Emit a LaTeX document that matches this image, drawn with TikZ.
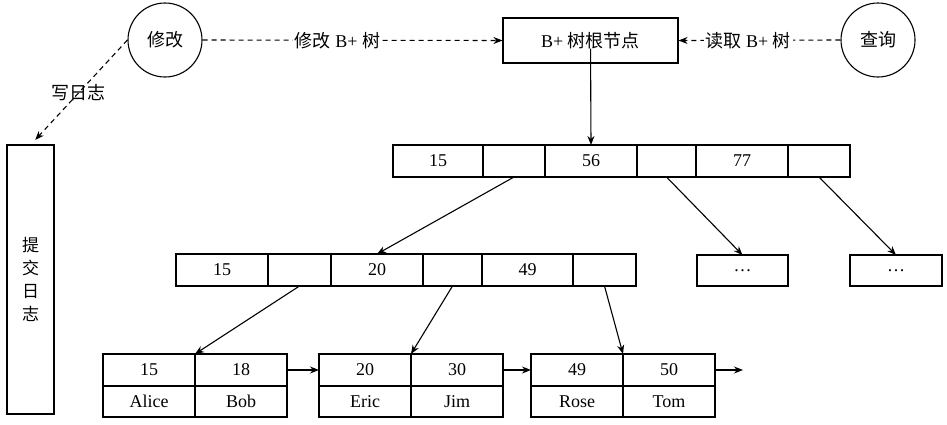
\documentclass[tikz,border=0pt]{standalone}
\usepackage{fontspec}
\setmainfont{Liberation Serif}
\newfontfamily\zhfont{Noto Sans CJK SC}
\newcommand\cjktext[1]{{\zhfont #1}}
\usetikzlibrary{arrows.meta}
\begin{document}
\begin{tikzpicture}[x=1pt, y=-1pt, line width=1.1pt, font=\fontsize{18}{21}\selectfont,
  cell/.style={draw, anchor=north west, minimum height=32pt, inner sep=0pt, outer sep=0pt},
  ring/.style={draw, circle, minimum size=74pt, inner sep=0pt},
  arr/.style={-{Stealth[length=9pt, width=7pt]}},
  dasharr/.style={arr, dash pattern=on 5pt off 4pt},
  tag/.style={fill=white, inner sep=2pt}]
\useasboundingbox (0,0) rectangle (947,424);
\node[ring] (mod) at (165,40){\cjktext{修改}};
\node[ring] (qry) at (878,40){\cjktext{查询}};
\node[draw, minimum width=175pt, minimum height=45pt, inner sep=0pt] (root) at (590.5,40.5){B+ \cjktext{树根节点}};
\node[cell, minimum width=47pt, minimum height=269pt, align=center, font=\fontsize{17}{23}\selectfont] (log) at (7,145){\cjktext{提}\\\cjktext{交}\\\cjktext{日}\\\cjktext{志}};
\node[cell, minimum width=90pt] (a0) at (393,145){15};
\node[cell, minimum width=62pt] (a1) at (483,145){};
\node[cell, minimum width=92pt] (a2) at (545,145){56};
\node[cell, minimum width=59pt] (a3) at (637,145){};
\node[cell, minimum width=92pt] (a4) at (696,145){77};
\node[cell, minimum width=62pt] (a5) at (788,145){};
\node[cell, minimum width=92pt] (b0) at (176,254){15};
\node[cell, minimum width=63pt] (b1) at (268,254){};
\node[cell, minimum width=92pt] (b2) at (331,254){20};
\node[cell, minimum width=59pt] (b3) at (423,254){};
\node[cell, minimum width=91pt] (b4) at (482,254){49};
\node[cell, minimum width=63pt] (b5) at (573,254){};
\node[cell, minimum width=91pt, minimum height=31pt] (d0) at (697,255){\dots};
\node[cell, minimum width=92pt, minimum height=31pt] (d1) at (850,255){\dots};
\node[cell, minimum width=92pt] (l0) at (103,354){15};
\node[cell, minimum width=92pt] (l1) at (195,354){18};
\node[cell, minimum width=92pt] (l2) at (319,354){20};
\node[cell, minimum width=92pt] (l3) at (411,354){30};
\node[cell, minimum width=92pt] (l4) at (531,354){49};
\node[cell, minimum width=92pt] (l5) at (623,354){50};
\node[cell, minimum width=92pt, minimum height=31pt] (v0) at (103,386){Alice};
\node[cell, minimum width=92pt, minimum height=31pt] (v1) at (195,386){Bob};
\node[cell, minimum width=92pt, minimum height=31pt] (v2) at (319,386){Eric};
\node[cell, minimum width=92pt, minimum height=31pt] (v3) at (411,386){Jim};
\node[cell, minimum width=92pt, minimum height=31pt] (v4) at (531,386){Rose};
\node[cell, minimum width=92pt, minimum height=31pt] (v5) at (623,386){Tom};
\coordinate (tail) at (743,370);
\draw[dasharr] (mod.east) -- node[tag, pos=0.45]{\cjktext{修改} B+ \cjktext{树}} (root.west);
\draw[dasharr] (qry.west) -- node[tag, pos=0.57]{\cjktext{读取} B+ \cjktext{树}} (root.east);
\draw[dasharr, shorten >=7pt] (mod.west) -- node{\cjktext{写日志}} (log.north);
\draw[arr, shorten <=8pt] (root.center) -- (a2.north);
\draw[arr](a1.south) -- (b2.north);
\draw[arr](a3.south) -- (d0.north);
\draw[arr](a5.south) -- (d1.north);
\draw[arr](b1.south) -- (l0.north east);
\draw[arr](b3.south) -- (l2.north east);
\draw[arr](b5.south) -- (l4.north east);
\draw[arr](l1.east) -- (l2.west);
\draw[arr](l3.east) -- (l4.west);
\draw[arr](l5.east) -- (tail);
\end{tikzpicture}
\end{document}
